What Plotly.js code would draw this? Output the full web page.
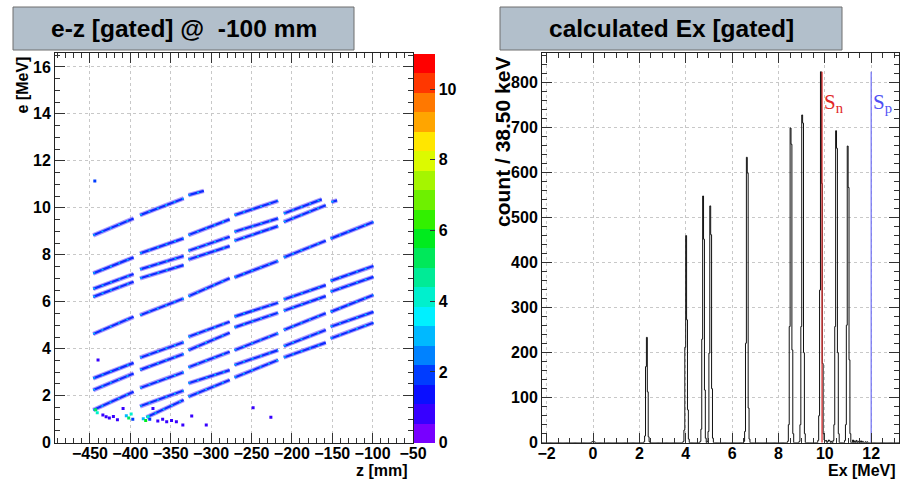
<!DOCTYPE html>
<html><head><meta charset="utf-8">
<script src="https://cdn.plot.ly/plotly-3.0.1.min.js"></script>
<style>html,body{margin:0;padding:0;background:#fff}#p{width:902px;height:481px}</style>
</head><body><div id="p"></div>
<script>
// ---------------- LEFT: e-z bands (segment end points) ----------------
const bandZ0 = [-446,-446,-446,-446,-446,-446,-446,-446,
  -388,-388,-388,-388,-388,-388,-388,-388,-388,-380,
  -328,-328,-328,-328,-328,-328,-328,-328,-328,-328,
  -271,-271,-271,-271,-271,-271,-271,-271,-271,
  -210,-210,-210,-210,-210,-210,-210,-210,
  -151,-152,-152,-152,-152,-152,-152];
const bandZ1 = [-396,-396,-396,-396,-396,-396,-396,-396,
  -334,-334,-334,-334,-334,-334,-334,-334,-334,-334,
  -309,-277,-277,-277,-277,-277,-277,-277,-277,-277,
  -217,-217,-217,-217,-217,-217,-217,-217,-217,
  -163,-158,-158,-158,-158,-158,-158,-158,
  -144,-99,-99,-99,-99,-99,-99];
const bandE0 = [8.83,7.21,6.55,6.21,4.63,2.74,2.24,1.39,
  9.69,8.06,7.38,7.00,5.43,3.62,3.10,2.33,1.55,1.08,
  10.54,8.84,8.17,7.80,6.24,4.51,3.94,3.21,2.53,1.96,
  9.69,8.98,8.60,7.04,5.37,4.91,3.94,3.31,2.78,
  9.76,9.40,7.89,6.10,5.62,4.80,4.11,3.63,
  10.25,8.69,6.89,6.43,5.57,4.94,4.44];
const bandE1 = [9.55,7.89,7.18,6.85,5.36,3.40,2.95,2.17,
  10.40,8.70,7.95,7.56,6.14,4.28,3.78,3.00,2.22,1.82,
  10.72,9.51,8.77,8.37,7.00,5.15,4.68,3.87,3.09,2.67,
  10.30,9.55,9.22,7.74,5.96,5.53,4.66,3.94,3.52,
  10.36,10.11,8.60,6.71,6.24,5.51,4.80,4.26,
  10.32,9.40,7.52,7.06,6.29,5.57,5.11];
// isolated cells (z, e, counts)
const ptZ = [-444,-440,-434,-430,-426,-421,-416,-409,-405,-402,-399,-397,-384,-381,-378,-376,-372,-366,-360,-355,-349,-343,-335,-324,-306,-248,-226,-443,-441];
const ptE = [11.14,3.52,1.18,1.10,1.05,1.12,0.98,1.46,1.15,1.05,1.22,1.00,1.02,0.95,1.10,1.00,1.46,0.92,1.00,0.89,0.95,0.89,0.75,1.14,0.75,1.49,1.08,1.40,1.28];
const ptC = [2,1,1,1,1,1,1,1,3,5,4,2,3,6,4,2,1,1,1,1,1,1,1,1,1,1,1,5,4];
// palette (20 levels, 0 .. 11)
const palette = ['rgb(120,0,255)','rgb(55,0,255)','rgb(10,15,255)','rgb(0,60,255)','rgb(0,130,255)',
  'rgb(0,185,255)','rgb(0,240,255)','rgb(0,240,205)','rgb(0,235,150)','rgb(0,232,90)',
  'rgb(0,235,30)','rgb(50,240,0)','rgb(110,240,0)','rgb(165,245,0)','rgb(220,250,0)',
  'rgb(255,230,0)','rgb(255,165,0)','rgb(255,120,0)','rgb(255,55,0)','rgb(255,0,0)'];
const cMin = 0, cMax = 11;
const cbTicks = [0,2,4,6,8,10];

// ---------------- RIGHT: Ex histogram ----------------
const binLo = -2.2, binW = 0.0385, nBins = 400;
const peakEx = [0.00, 2.34, 4.00, 4.74, 5.06, 6.62, 8.52, 9.02, 9.83, 10.50, 11.00];
const peakCounts = [
  [0,1,2,3,2,1,0],
  [2,15,169,234,113,13,2],
  [3,28,212,460,273,73,8],
  [3,30,230,548,452,117,10],
  [3,25,199,526,462,120,10],
  [3,25,221,634,599,77,8],
  [3,40,258,699,663,206,20],
  [3,40,258,728,710,200,20],
  [5,60,339,824,576,176,20],
  [5,40,258,693,654,200,20],
  [5,40,261,659,567,184,20]];
const tailEx = [9.98,10.03,10.08,10.13,10.18,10.23,10.28,11.22,11.30,11.38,11.46,11.55,11.65,11.75,11.85];
const tailCounts = [6,4,5,3,6,4,3,6,4,5,3,4,3,2,2];
const Sn = 9.88, Sp = 12.0, thrTop = 824;

// ---------------- build ----------------
const bx = [], by = [];
for (let i = 0; i < bandZ0.length; i++) { bx.push(bandZ0[i], bandZ1[i], null); by.push(bandE0[i], bandE1[i], null); }
const cs = [];
palette.forEach((c, i) => { cs.push([i / palette.length, c]); cs.push([(i + 1) / palette.length, c]); });

const counts = new Array(nBins).fill(0);
peakEx.forEach((ex, j) => {
  const c = Math.floor((ex - binLo) / binW);
  peakCounts[j].forEach((v, k) => { counts[c - 3 + k] += v; });
});
tailEx.forEach((ex, j) => { counts[Math.floor((ex - binLo) / binW)] += tailCounts[j]; });
const hx = [], hy = [];
for (let i = 0; i < nBins; i++) { hx.push(binLo + i * binW); hy.push(counts[i]); }
hx.push(binLo + nBins * binW); hy.push(counts[nBins - 1]);

const F = 'Liberation Sans, Arial, sans-serif';
const tf = {family: F, size: 16, weight: 'bold', color: '#000'};

const traces = [
  {x: bx, y: by, mode: 'lines', line: {color: 'rgba(120,90,255,0.6)', width: 4.5}, hoverinfo: 'skip', xaxis: 'x', yaxis: 'y'},
  {x: bx, y: by, mode: 'lines', line: {color: 'rgb(15,45,255)', width: 2.2}, hoverinfo: 'skip', xaxis: 'x', yaxis: 'y'},
  {x: bx, y: by, mode: 'lines', line: {color: 'rgb(0,190,255)', width: 1.4, dash: '2px,7px'}, hoverinfo: 'skip', xaxis: 'x', yaxis: 'y'},
  {x: ptZ, y: ptE, mode: 'markers', xaxis: 'x', yaxis: 'y',
   marker: {size: 3, symbol: 'square', color: ptC, cmin: cMin, cmax: cMax, colorscale: cs, showscale: true, line: {width: 0},
     colorbar: {x: 414/902, xanchor: 'left', y: 38.3/481, yanchor: 'bottom', len: 389.4/481, lenmode: 'fraction',
       thickness: 21, thicknessmode: 'pixels', xpad: 0, ypad: 0, outlinewidth: 0,
       tickvals: cbTicks, ticks: 'inside', ticklen: 5, tickcolor: '#333', tickfont: tf}}},
  {x: hx, y: hy, mode: 'lines', line: {shape: 'hv', color: '#111', width: 1}, xaxis: 'x2', yaxis: 'y2', hoverinfo: 'skip'},
  {x: [Sn, Sn], y: [0, thrTop], mode: 'lines', line: {color: 'rgb(220,40,40)', width: 1.2}, xaxis: 'x2', yaxis: 'y2'},
  {x: [Sp, Sp], y: [0, thrTop], mode: 'lines', line: {color: 'rgb(110,110,245)', width: 1.2}, xaxis: 'x2', yaxis: 'y2'}
];

const axBase = {showline: true, linecolor: '#222', linewidth: 1, mirror: 'ticks', ticks: 'inside', ticklen: 10,
  tickcolor: '#333', showgrid: true, gridcolor: 'rgb(200,200,200)', griddash: 'dot', gridwidth: 1,
  zeroline: false, tickfont: tf, fixedrange: true};
const yDom = [38.3/481, 427.7/481];

const layout = {
  width: 902, height: 481, margin: {l: 0, r: 0, t: 0, b: 0}, paper_bgcolor: '#fff', plot_bgcolor: '#fff',
  showlegend: false, font: {family: F},
  xaxis: Object.assign({}, axBase, {domain: [55/902, 413/902], range: [-493.3, -50], tick0: -450, dtick: 50,
    ticklabelstandoff: -4,
    minor: {dtick: 10, ticks: 'inside', ticklen: 5, tickcolor: '#333', showgrid: false}, anchor: 'y'}),
  yaxis: Object.assign({}, axBase, {domain: yDom, range: [0, 16.58], tick0: 0, dtick: 2,
    minor: {dtick: 0.5, ticks: 'inside', ticklen: 5, tickcolor: '#333', showgrid: false}, anchor: 'x'}),
  xaxis2: Object.assign({}, axBase, {domain: [542/902, 899/902], range: [-2.2, 13.2], tick0: 0, dtick: 2,
    ticklabelstandoff: -4,
    minor: {dtick: 0.5, ticks: 'inside', ticklen: 5, tickcolor: '#333', showgrid: false}, anchor: 'y2'}),
  yaxis2: Object.assign({}, axBase, {domain: yDom, range: [0, 865], tick0: 0, dtick: 100,
    minor: {dtick: 20, ticks: 'inside', ticklen: 5, tickcolor: '#333', showgrid: false}, anchor: 'x2'}),
  shapes: [
    {type: 'rect', xref: 'paper', yref: 'paper', x0: 13/902, x1: 354/902, y0: 1 - 50/481, y1: 1 - 7/481,
     fillcolor: 'rgb(178,191,203)', line: {color: 'rgb(110,110,110)', width: 1}, layer: 'below'},
    {type: 'rect', xref: 'paper', yref: 'paper', x0: 500/902, x1: 842/902, y0: 1 - 50/481, y1: 1 - 7/481,
     fillcolor: 'rgb(178,191,203)', line: {color: 'rgb(110,110,110)', width: 1}, layer: 'below'}
  ],
  annotations: [
    {text: 'e-z [gated] @ \u00a0-100 mm', xref: 'paper', yref: 'paper', x: 183.5/902, y: 1 - 28.5/481, showarrow: false,
     font: {family: F, size: 24.5, weight: 'bold', color: '#000'}, xanchor: 'center', yanchor: 'middle'},
    {text: 'calculated Ex [gated]', xref: 'paper', yref: 'paper', x: 671/902, y: 1 - 28.5/481, showarrow: false,
     font: {family: F, size: 24.5, weight: 'bold', color: '#000'}, xanchor: 'center', yanchor: 'middle'},
    {text: 'e [MeV]', xref: 'paper', yref: 'paper', x: 22/902, y: 1 - 55/481, textangle: -90, showarrow: false,
     font: tf, xanchor: 'center', yanchor: 'top'},
    {text: 'z [mm]', xref: 'paper', yref: 'paper', x: 410/902, y: 1 - 470/481, showarrow: false,
     font: tf, xanchor: 'right', yanchor: 'middle'},
    {text: 'count / 38.50 keV', xref: 'paper', yref: 'paper', x: 502/902, y: 1 - 55/481, textangle: -90, showarrow: false,
     font: {family: F, size: 21, weight: 'bold', color: '#000'}, xanchor: 'center', yanchor: 'top'},
    {text: 'Ex [MeV]', xref: 'paper', yref: 'paper', x: 898/902, y: 1 - 470/481, showarrow: false,
     font: tf, xanchor: 'right', yanchor: 'middle'},
    {text: 'S<sub>n</sub>', xref: 'x2', yref: 'y2', x: Sn, y: 755, xanchor: 'left', yanchor: 'middle', showarrow: false,
     font: {family: 'Liberation Serif, serif', size: 21, color: 'rgb(225,40,40)'}},
    {text: 'S<sub>p</sub>', xref: 'x2', yref: 'y2', x: Sp, y: 755, xanchor: 'left', yanchor: 'middle', showarrow: false,
     font: {family: 'Liberation Serif, serif', size: 21, color: 'rgb(80,80,245)'}}
  ]
};
Plotly.newPlot('p', traces, layout, {displayModeBar: false, staticPlot: true});
</script></body></html>
